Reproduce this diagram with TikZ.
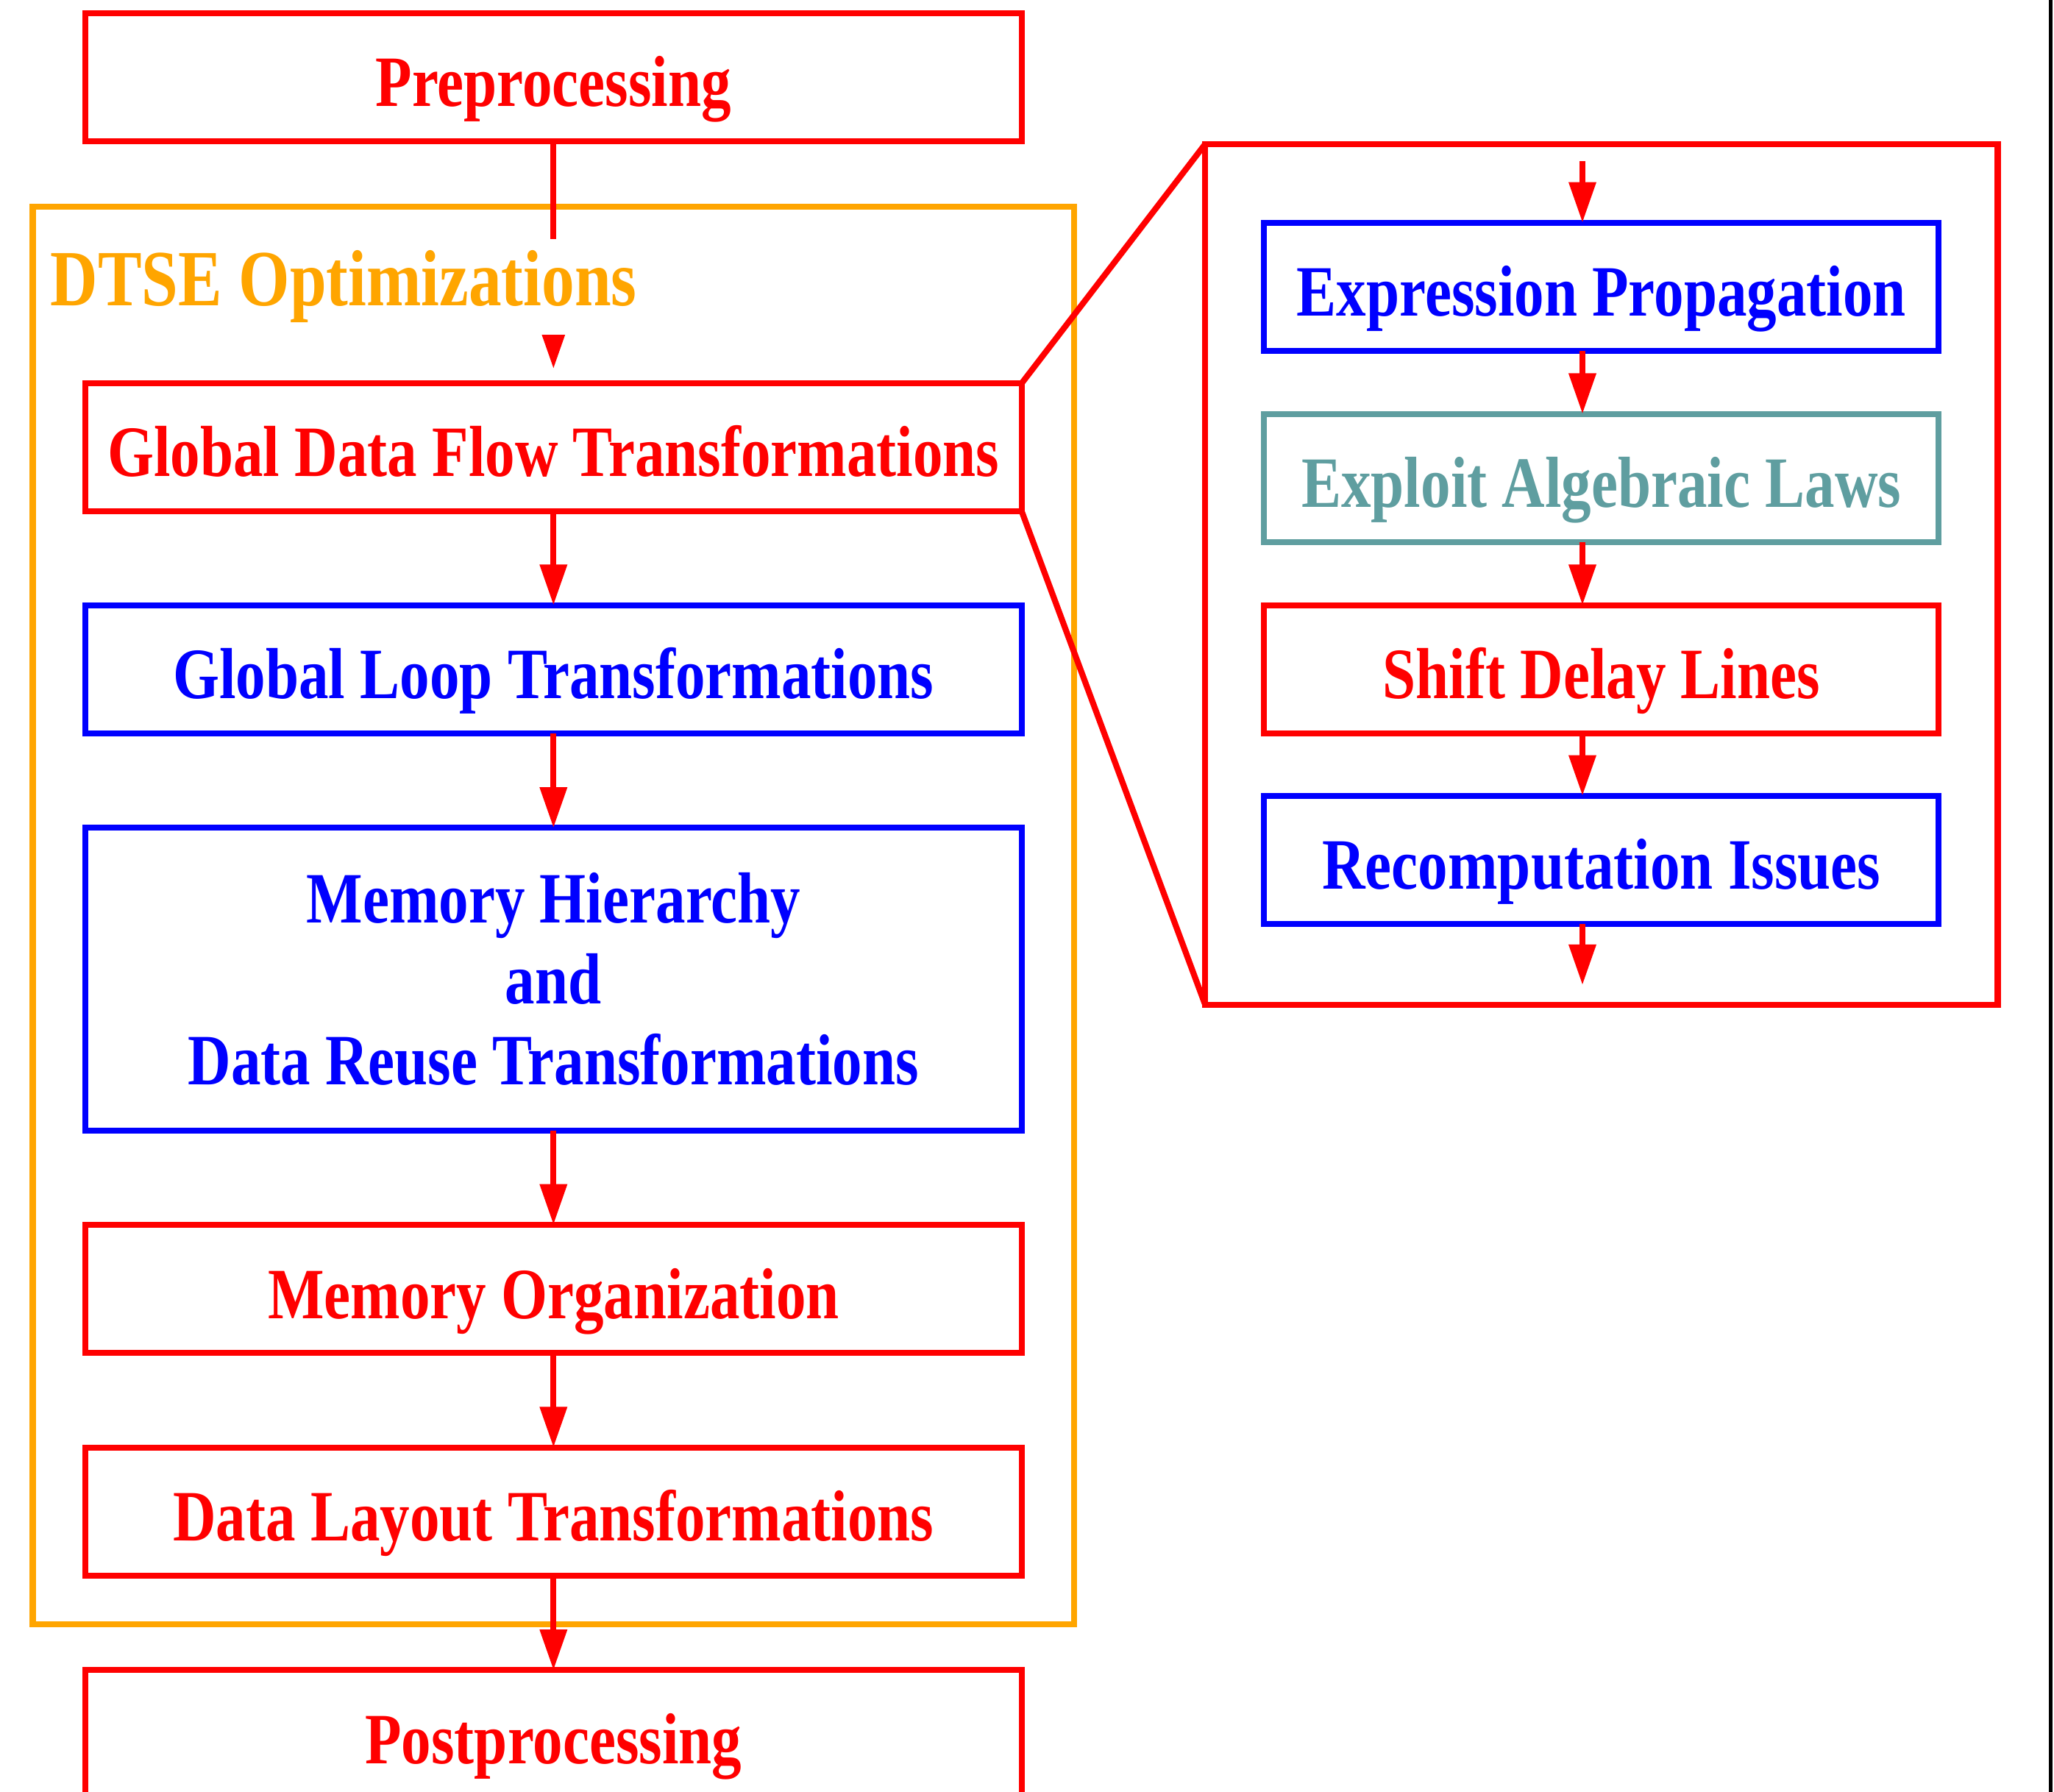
\documentclass[tikz,border=0pt]{standalone}
\usepackage{fontspec}
\usetikzlibrary{arrows.meta}
\newfontfamily\diagfont[FakeStretch=0.825]{Liberation Serif}
\definecolor{dtseorange}{RGB}{255,165,0}
\definecolor{cadet}{RGB}{95,158,160}

\begin{document}
\begin{tikzpicture}[auto,
   stagebox/.style ={rectangle, draw=#1, text=#1, line width=1.3pt, inner sep=0pt, outer sep=0pt,
      minimum height=9.8mm, font=\diagfont\bfseries\fontsize{15.7}{17.6}\selectfont},
   oneline/.style ={text height=4.48mm, text depth=0pt},
   leftbox/.style ={oneline, minimum width=71.5mm},
   rightbox/.style ={oneline, minimum width=51.5mm},
   flowarrow/.style ={red, line width=1.3pt, -{Triangle[length=3.1mm, width=2mm]}}]
   \useasboundingbox (0,0) rectangle (15.68,-13.68);
   \clip (0,0) rectangle (15.68,-13.68);

   \node[stagebox=dtseorange, minimum width=79.5mm, minimum height=108.2mm] (dtse) at (4.225,-6.99) {};
   \node[stagebox=red, minimum width=60.5mm, minimum height=65.7mm] (zoom) at (12.225,-4.385) {};

   \node[stagebox=red, leftbox] (pre)  at (4.225,-0.59)  {Preprocessing};
   \node[stagebox=red, leftbox] (gdf)  at (4.225,-3.415) {Global Data Flow Transformations};
   \node[stagebox=blue, leftbox] (glt) at (4.225,-5.11)  {Global Loop Transformations};
   \node[stagebox=blue, minimum width=71.5mm, minimum height=23.1mm, align=center] (mhd) at (4.225,-7.475)
      {Memory Hierarchy\\and\\Data Reuse Transformations};
   \node[stagebox=red, leftbox] (mo)   at (4.225,-9.84)  {Memory Organization};
   \node[stagebox=red, leftbox] (dlt)  at (4.225,-11.54) {Data Layout Transformations};
   \node[stagebox=red, leftbox] (post) at (4.225,-13.24) {Postprocessing};

   \node[stagebox=blue, rightbox] (ep)  at (12.225,-2.19)  {Expression Propagation};
   \node[stagebox=cadet, rightbox] (eal) at (12.225,-3.65) {Exploit Algebraic Laws};
   \node[stagebox=red, rightbox] (sdl)  at (12.225,-5.11)  {Shift Delay Lines};
   \node[stagebox=blue, rightbox] (ri)  at (12.225,-6.565) {Recomputation Issues};
   \coordinate (zin)  at (12.08,-1.23);
   \coordinate (zout) at (12.08,-7.52);

   \draw[flowarrow, shorten >=1.1mm] (pre) to (gdf);
   \draw[flowarrow] (gdf) to (glt);
   \draw[flowarrow] (glt) to (mhd);
   \draw[flowarrow] (mhd) to (mo);
   \draw[flowarrow] (mo) to (dlt);
   \draw[flowarrow] (dlt) to (post);

   \draw[flowarrow] (zin) to (ep.north -| zin);
   \draw[flowarrow] (ep.south -| zin) to (eal.north -| zin);
   \draw[flowarrow] (eal.south -| zin) to (sdl.north -| zin);
   \draw[flowarrow] (sdl.south -| zin) to (ri.north -| zin);
   \draw[flowarrow] (ri.south -| zin) to (zout);

   \draw[red, line width=1.3pt] (gdf.north east) to (zoom.north west);
   \draw[red, line width=1.3pt] (gdf.south east) to (zoom.south west);

   \node[text=dtseorange, fill=white, anchor=base west, inner xsep=0.3mm, inner ysep=0.9mm,
      font=\diagfont\bfseries\fontsize{17.3}{20}\selectfont] (dtselabel) at (0.35,-2.335) {DTSE Optimizations};

   \draw[line width=0.3mm] (15.656,0) -- (15.656,-13.68);
 \end{tikzpicture}
\end{document}
